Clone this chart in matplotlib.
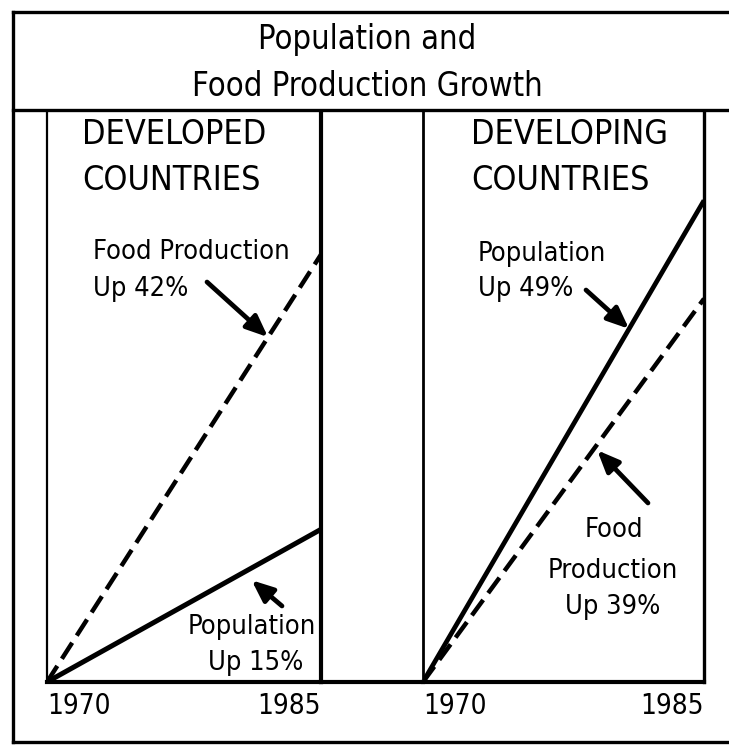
import matplotlib
matplotlib.use('Agg')
import matplotlib.pyplot as plt
from matplotlib.lines import Line2D

plt.rcParams['font.family'] = ['DejaVu Sans']
plt.rcParams['font.stretch'] = 'condensed'

years = [1970, 1985]
developed_food = [0, 42]
developed_pop = [0, 15]
developing_pop = [0, 49]
developing_food = [0, 39]

W, H = 729, 745


def fx(px):
    return px / W


def fy(py):
    return 1 - py / H


fig = plt.figure(figsize=(W / 100, H / 100), dpi=100)

ax1 = fig.add_axes([fx(47), fy(682), fx(321) - fx(47), fy(112) - fy(682)])
ax2 = fig.add_axes([fx(423), fy(682), fx(704) - fx(423), fy(112) - fy(682)])

dash = (4.3, 1.9)

ax1.plot(years, developed_food, color='black', lw=3.2, dashes=dash, solid_capstyle='butt')
ax1.plot(years, developed_pop, color='black', lw=3.6, solid_capstyle='butt')
ax1.set_ylim(0, 56)

ax2.plot(years, developing_pop, color='black', lw=3.4, solid_capstyle='butt')
ax2.plot(years, developing_food, color='black', lw=3.2, dashes=dash, solid_capstyle='butt')
ax2.set_ylim(0, 58)

for ax, lw_left, lw_right in [(ax1, 1.6, 3.0), (ax2, 2.0, 2.4)]:
    ax.set_xlim(1970, 1985)
    ax.spines['top'].set_visible(False)
    ax.spines['left'].set_linewidth(lw_left)
    ax.spines['right'].set_linewidth(lw_right)
    ax.spines['bottom'].set_linewidth(3.0)
    ax.set_yticks([])
    ax.set_xticks(years)
    ax.set_xticklabels(['1970', '1985'], fontsize=20)
    ax.tick_params(axis='x', length=0, pad=7)
    labels = ax.get_xticklabels()
    labels[0].set_ha('left')
    labels[1].set_ha('right')
    ax.set_facecolor('none')

# bottom axis runs across the gap between panels
fig.add_artist(Line2D([fx(321), fx(423)], [fy(682), fy(682)], color='black', lw=3.0))

# outer frame and title box
frame = dict(color='black', lw=2.4)
fig.add_artist(Line2D([fx(13), fx(13)], [fy(12), fy(742)], **frame))
fig.add_artist(Line2D([fx(13), fx(729)], [fy(12), fy(12)], **frame))
fig.add_artist(Line2D([fx(13), fx(729)], [fy(742), fy(742)], **frame))
fig.add_artist(Line2D([fx(13), fx(729)], [fy(110), fy(110)], **frame))

fig.text(fx(367), fy(40), 'Population and', ha='center', va='center', fontsize=23.5)
fig.text(fx(367), fy(86), 'Food Production Growth', ha='center', va='center', fontsize=23.5)

big = dict(fontsize=24.5, va='center', ha='left')
fig.text(fx(82), fy(135), 'DEVELOPED', **big)
fig.text(fx(82), fy(180), 'COUNTRIES', **big)
fig.text(fx(471), fy(135), 'DEVELOPING', **big)
fig.text(fx(471), fy(180), 'COUNTRIES', **big)

mid = dict(fontsize=19.5, va='center')
fig.text(fx(93), fy(252), 'Food Production', ha='left', **mid)
fig.text(fx(93), fy(289), 'Up 42%', ha='left', **mid)
fig.text(fx(252), fy(627), 'Population', ha='center', **mid)
fig.text(fx(256), fy(663), 'Up 15%', ha='center', **mid)
fig.text(fx(478), fy(254), 'Population', ha='left', **mid)
fig.text(fx(478), fy(289), 'Up 49%', ha='left', **mid)
fig.text(fx(614), fy(530), 'Food', ha='center', **mid)
fig.text(fx(613), fy(571), 'Production', ha='center', **mid)
fig.text(fx(613), fy(607), 'Up 39%', ha='center', **mid)

arrow = dict(arrowstyle='-|>,head_length=1.3,head_width=0.55', color='black', lw=3.4,
             shrinkA=0, shrinkB=0)


def on_line(x, xs, ys):
    return ys[0] + (ys[1] - ys[0]) * (x - xs[0]) / (xs[1] - xs[0])


xa = 1982.1
ax1.annotate('', xy=(xa, on_line(xa, years, developed_food)), xycoords='data',
             xytext=(fx(207), fy(282)), textcoords='figure fraction', arrowprops=arrow)
xa = 1981.2
ax1.annotate('', xy=(xa, on_line(xa, years, developed_pop) - 1.2), xycoords='data',
             xytext=(fx(282), fy(606)), textcoords='figure fraction', arrowprops=arrow)
xa = 1981.0
ax2.annotate('', xy=(xa, on_line(xa, years, developing_pop)), xycoords='data',
             xytext=(fx(586), fy(290)), textcoords='figure fraction', arrowprops=arrow)
xa = 1979.3
ax2.annotate('', xy=(xa, on_line(xa, years, developing_food) - 0.6), xycoords='data',
             xytext=(fx(648), fy(503)), textcoords='figure fraction', arrowprops=arrow)

fig.savefig('out.png', dpi=100)
